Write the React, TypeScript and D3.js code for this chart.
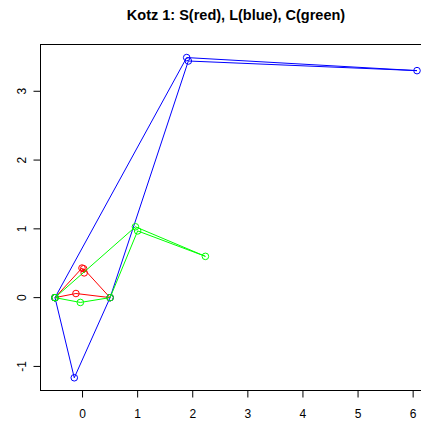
import React from "react";
import * as d3 from "d3";

const W = 421;
const H = 422;

// Series points, connected in order (closed path)
const sX = [-0.5, -0.01, 0.03, 0.02, 0.5, -0.12, -0.5];
const sY = [0, 0.43, 0.36, 0.42, 0, 0.06, 0];
const lX = [-0.5, 1.89, 6.07, 1.92, 0.5, -0.15, -0.5];
const lY = [0, 3.49, 3.3, 3.44, 0, -1.165, 0];
const cX = [-0.5, 0.96, 2.23, 1.0, 0.5, -0.04, -0.5];
const cY = [0, 1.03, 0.6, 0.97, 0, -0.07, 0];

const xTicks = [0, 1, 2, 3, 4, 5, 6];
const yTicks = [-1, 0, 1, 2, 3];
const title = "Kotz 1: S(red), L(blue), C(green)";

const series = [
  { xs: sX, ys: sY, color: "#ff0000" },
  { xs: lX, ys: lY, color: "#0000ff" },
  { xs: cX, ys: cY, color: "#00ff00" },
];

export default function App() {
  const x = d3.scaleLinear().domain([-0.763, 6.333]).range([40.5, 431.5]);
  const y = d3.scaleLinear().domain([-1.35, 3.68]).range([390.5, 44.5]);
  const line = d3
    .line<[number, number]>()
    .x((d) => x(d[0]))
    .y((d) => y(d[1]));
  const font = "'Liberation Sans', Arial, Helvetica, sans-serif";
  return (
    <svg
      width={W}
      height={H}
      style={{ position: "absolute", left: 0, top: 0, background: "#fff" }}
      fontFamily={font}
    >
      <rect x={0} y={0} width={W} height={H} fill="#fff" />
      <text
        x={236}
        y={20}
        textAnchor="middle"
        fontWeight="bold"
        fontSize={14.5}
        fill="#000"
      >
        {title}
      </text>
      <defs>
        <clipPath id="clip">
          <rect x={40.5} y={44.5} width={391} height={346} />
        </clipPath>
      </defs>
      <g clipPath="url(#clip)">
        {series.map((s, i) => {
          const pts = s.xs.map((v, j) => [v, s.ys[j]] as [number, number]);
          return (
            <g key={i}>
              <path d={line(pts) || ""} fill="none" stroke={s.color} strokeWidth={1} />
              {pts.map((p, j) => (
                <circle
                  key={j}
                  cx={x(p[0])}
                  cy={y(p[1])}
                  r={3.3}
                  fill="none"
                  stroke={s.color}
                  strokeWidth={1}
                />
              ))}
            </g>
          );
        })}
      </g>
      <rect
        x={40.5}
        y={44.5}
        width={391}
        height={346}
        fill="none"
        stroke="#000"
        strokeWidth={1}
      />
      {xTicks.map((t) => (
        <g key={"x" + t}>
          <line x1={x(t)} x2={x(t)} y1={390.5} y2={397.5} stroke="#000" />
          <text x={x(t)} y={418} textAnchor="middle" fontSize={12} fill="#000">
            {t}
          </text>
        </g>
      ))}
      {yTicks.map((t) => (
        <g key={"y" + t}>
          <line x1={33.5} x2={40.5} y1={y(t)} y2={y(t)} stroke="#000" />
          <text
            transform={`translate(26,${y(t)}) rotate(-90)`}
            textAnchor="middle"
            fontSize={12}
            fill="#000"
          >
            {String(t)}
          </text>
        </g>
      ))}
    </svg>
  );
}
